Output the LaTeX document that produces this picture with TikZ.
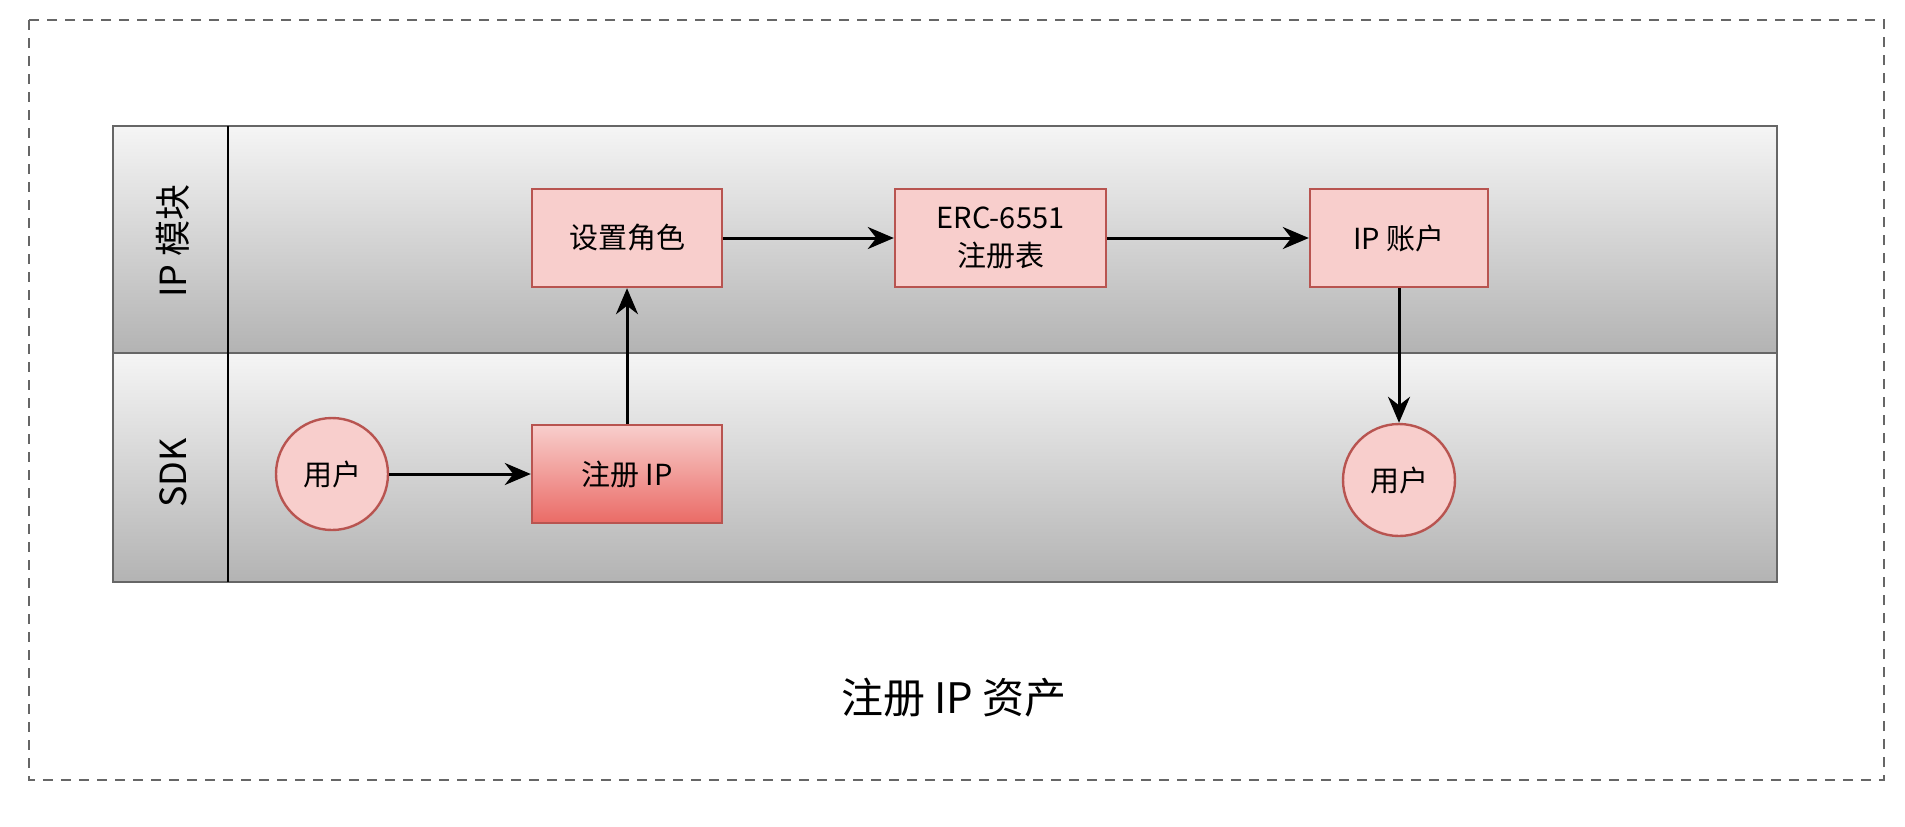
\documentclass[tikz,border=0pt]{standalone}
\usepackage{fontspec}
\setmainfont{Noto Sans CJK SC}
\usetikzlibrary{arrows.meta,positioning}
\definecolor{boxfill}{HTML}{F8CECC}
\definecolor{boxline}{HTML}{B85450}
\definecolor{boxdark}{HTML}{EA6B66}
\definecolor{laneline}{HTML}{666666}
\definecolor{lanetop}{HTML}{F5F5F5}
\definecolor{lanebot}{HTML}{B3B3B3}
\begin{document}
\begin{tikzpicture}[x=0.5pt,y=-0.5pt,
    lane/.style={draw=laneline,line width=1.2pt,top color=lanetop,bottom color=lanebot},
    lanelabel/.style={rotate=90,font=\fontsize{18}{20}\selectfont},
    task/.style={draw=boxline,fill=boxfill,line width=1.2pt,minimum height=49pt,
        inner sep=0pt,align=center,font=\fontsize{14.5}{19}\selectfont},
    actor/.style={circle,draw=boxline,fill=boxfill,line width=1.2pt,minimum size=56pt,
        inner sep=0pt,font=\fontsize{14.5}{16}\selectfont},
    flow/.style={line width=1.5pt,-{Stealth[length=13pt,width=11pt]}}]
    % 画布大小
    \useasboundingbox (0,0) rectangle (1905,826);
    \fill[white] (0,0) rectangle (1905,826);

    % 外围虚线框
    \draw[laneline,line width=1pt,dash pattern=on 5pt off 4pt] (29,20) rectangle (1884,780);

    % 泳道
    \draw[lane] (113,126) rectangle (1777,353);
    \draw[lane] (113,353) rectangle (1777,582);
    \draw[line width=1.2pt] (228,126) -- (228,582);
    \node[lanelabel] (lanea) at (173,241) {IP 模块};
    \node[lanelabel] (laneb) at (173,473) {SDK};

    % 节点
    \node[actor] (user) at (332,474) {用户};
    \node[task,minimum width=95pt,bottom color=boxdark,top color=boxfill] (reg) at (627,474) {注册 IP};
    \node[task,minimum width=95pt] (role) at (627,238) {设置角色};
    \node[task,minimum width=105.5pt] (erc) at (1000.5,238) {ERC-6551\\注册表};
    \node[task,minimum width=89pt] (acct) at (1399,238) {IP 账户};
    \node[actor] (owner) at (1399,480) {用户};

    % 连线
    \draw[flow] (user) -- (reg);
    \draw[flow] (reg) -- (role);
    \draw[flow] (role) -- (erc);
    \draw[flow] (erc) -- (acct);
    \draw[flow] (acct) -- (owner);

    % 标题
    \node[font=\fontsize{21}{24}\selectfont] (title) at (954,698) {注册 IP 资产};
\end{tikzpicture}
\end{document}
